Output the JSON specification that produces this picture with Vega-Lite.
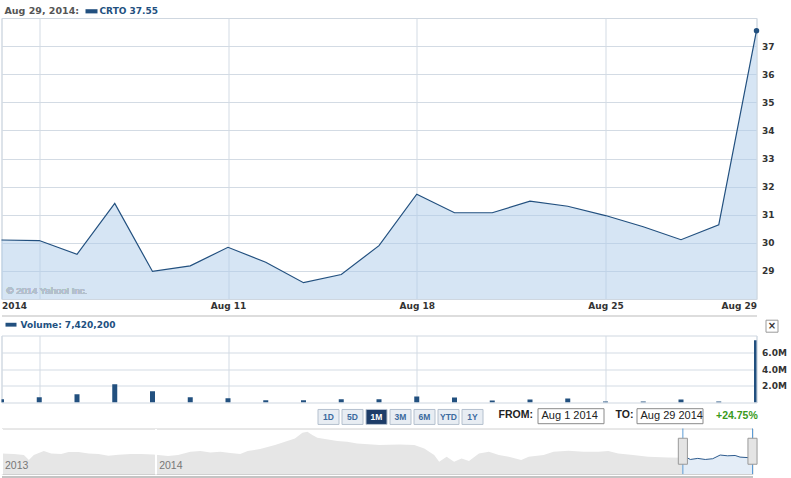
{
  "$schema": "https://vega.github.io/schema/vega-lite/v6.json",
  "background": "white",
  "padding": {"left": -1.5, "top": 4, "right": 0, "bottom": 0},
  "config": {
    "font": "DejaVu Sans",
    "view": {"stroke": "#cfd7e0"},
    "axis": {"gridColor": "#d3dbe4", "domain": false, "ticks": false, "labelFont": "DejaVu Sans", "labelFontSize": 9, "labelFontWeight": "bold", "labelColor": "#333333", "title": null},
    "legend": {"padding": 0}
  },
  "datasets": {
    "daily": [
      {"date": "2014-08-01", "close": 30.10, "volume": 400000},
      {"date": "2014-08-04", "close": 30.08, "volume": 630000},
      {"date": "2014-08-05", "close": 29.59, "volume": 990000},
      {"date": "2014-08-06", "close": 31.40, "volume": 2180000},
      {"date": "2014-08-07", "close": 28.98, "volume": 1350000},
      {"date": "2014-08-08", "close": 29.18, "volume": 630000},
      {"date": "2014-08-11", "close": 29.84, "volume": 510000},
      {"date": "2014-08-12", "close": 29.31, "volume": 270000},
      {"date": "2014-08-13", "close": 28.58, "volume": 270000},
      {"date": "2014-08-14", "close": 28.87, "volume": 390000},
      {"date": "2014-08-15", "close": 29.90, "volume": 390000},
      {"date": "2014-08-18", "close": 31.73, "volume": 710000},
      {"date": "2014-08-19", "close": 31.07, "volume": 600000},
      {"date": "2014-08-20", "close": 31.07, "volume": 240000},
      {"date": "2014-08-21", "close": 31.48, "volume": 360000},
      {"date": "2014-08-22", "close": 31.30, "volume": 480000},
      {"date": "2014-08-25", "close": 30.97, "volume": 120000},
      {"date": "2014-08-26", "close": 30.57, "volume": 120000},
      {"date": "2014-08-27", "close": 30.11, "volume": 360000},
      {"date": "2014-08-28", "close": 30.64, "volume": 120000},
      {"date": "2014-08-29", "close": 37.55, "volume": 7420200}
    ],
    "nav": [
      {"date": "2013-10-31", "v": 34.0}, {"date": "2013-11-05", "v": 33.4}, {"date": "2013-11-09", "v": 32.5},
      {"date": "2013-11-11", "v": 27.9}, {"date": "2013-11-13", "v": 32.5}, {"date": "2013-11-17", "v": 36.2},
      {"date": "2013-11-20", "v": 34.0}, {"date": "2013-11-24", "v": 33.4}, {"date": "2013-11-27", "v": 35.3},
      {"date": "2013-12-01", "v": 35.3}, {"date": "2013-12-05", "v": 34.0}, {"date": "2013-12-09", "v": 33.4},
      {"date": "2013-12-13", "v": 31.8}, {"date": "2013-12-17", "v": 32.8}, {"date": "2013-12-22", "v": 33.4},
      {"date": "2013-12-26", "v": 33.4}, {"date": "2013-12-31", "v": 33.0}, {"date": "2014-01-02", "v": 32.5},
      {"date": "2014-01-06", "v": 31.6}, {"date": "2014-01-10", "v": 32.5}, {"date": "2014-01-15", "v": 35.5},
      {"date": "2014-01-19", "v": 36.2}, {"date": "2014-01-23", "v": 34.9}, {"date": "2014-01-27", "v": 35.5},
      {"date": "2014-01-31", "v": 34.3}, {"date": "2014-02-04", "v": 33.4}, {"date": "2014-02-07", "v": 36.2},
      {"date": "2014-02-12", "v": 38.0}, {"date": "2014-02-18", "v": 41.7}, {"date": "2014-02-22", "v": 44.8},
      {"date": "2014-02-26", "v": 47.8}, {"date": "2014-03-01", "v": 53.1}, {"date": "2014-03-03", "v": 54.0},
      {"date": "2014-03-05", "v": 51.0}, {"date": "2014-03-07", "v": 48.5}, {"date": "2014-03-15", "v": 45.4},
      {"date": "2014-03-19", "v": 44.8}, {"date": "2014-03-23", "v": 43.2}, {"date": "2014-04-01", "v": 41.7},
      {"date": "2014-04-09", "v": 42.3}, {"date": "2014-04-15", "v": 41.7}, {"date": "2014-04-19", "v": 38.6},
      {"date": "2014-04-23", "v": 32.5}, {"date": "2014-04-25", "v": 26.3}, {"date": "2014-04-28", "v": 30.9},
      {"date": "2014-05-01", "v": 26.3}, {"date": "2014-05-04", "v": 29.4}, {"date": "2014-05-07", "v": 27.0},
      {"date": "2014-05-11", "v": 34.0}, {"date": "2014-05-15", "v": 35.5}, {"date": "2014-05-19", "v": 32.5},
      {"date": "2014-05-23", "v": 30.9}, {"date": "2014-05-28", "v": 27.9}, {"date": "2014-05-31", "v": 30.9},
      {"date": "2014-06-06", "v": 32.5}, {"date": "2014-06-10", "v": 35.5}, {"date": "2014-06-16", "v": 36.5},
      {"date": "2014-06-22", "v": 35.5}, {"date": "2014-06-28", "v": 35.5}, {"date": "2014-07-02", "v": 36.2},
      {"date": "2014-07-06", "v": 34.0}, {"date": "2014-07-12", "v": 32.5}, {"date": "2014-07-18", "v": 30.9},
      {"date": "2014-07-26", "v": 30.3}, {"date": "2014-08-01", "v": 30.0}
    ],
    "navAug": [
      {"date": "2014-08-01", "v": 30.0}, {"date": "2014-08-02", "v": 30.9}, {"date": "2014-08-04", "v": 28.4},
      {"date": "2014-08-07", "v": 29.4}, {"date": "2014-08-10", "v": 28.4}, {"date": "2014-08-13", "v": 29.1},
      {"date": "2014-08-16", "v": 32.5}, {"date": "2014-08-19", "v": 31.8}, {"date": "2014-08-22", "v": 32.1},
      {"date": "2014-08-24", "v": 30.6}, {"date": "2014-08-28", "v": 30.0}, {"date": "2014-08-29", "v": 30.0}
    ],
    "edges": [{"edge": "2014-08-01"}, {"edge": "2014-08-29"}]
  },
  "bounds": "flush",
  "spacing": 36.5,
  "resolve": {"scale": {"color": "independent", "fill": "independent", "stroke": "independent", "shape": "independent"}, "legend": {"color": "independent", "shape": "independent"}},
  "vconcat": [
    {
      "width": 755,
      "height": 281,
      "data": {"name": "daily"},
      "encoding": {
        "x": {"field": "date", "type": "ordinal", "scale": {"type": "point", "padding": 0},
          "axis": {"values": ["2014-08-01", "2014-08-04", "2014-08-11", "2014-08-18", "2014-08-25", "2014-08-29"],
            "labelExpr": "datum.value == '2014-08-01' ? '2014' : datum.value == '2014-08-04' ? '' : 'Aug ' + toNumber(substring(datum.value, 8, 10))",
            "labelFlush": true, "labelPadding": -14, "labelAngle": 0, "grid": true,
            "domain": true, "domainColor": "#dddddd", "domainWidth": 2, "offset": 16.5}},
        "y": {"field": "close", "type": "quantitative", "scale": {"domain": [28, 38], "zero": false, "nice": false},
          "axis": {"orient": "right", "values": [29, 30, 31, 32, 33, 34, 35, 36, 37], "labelPadding": 5, "grid": true}}
      },
      "layer": [
        {"mark": {"type": "area", "color": "#adcbe9", "opacity": 0.5}, "encoding": {"y2": {"datum": 28}}},
        {"mark": {"type": "line", "color": "#22507f", "strokeWidth": 1.2}},
        {"mark": {"type": "text", "text": "© 2014 Yahoo! Inc.", "align": "left", "baseline": "bottom", "dx": 5, "dy": -3, "font": "Liberation Sans", "fontSize": 9.5, "color": "#b2bfcd"},
          "encoding": {"x": {"datum": "2014-08-01"}, "y": {"datum": 28}}},
        {"transform": [{"filter": "datum.date == '2014-08-29'"}],
          "mark": {"type": "point", "filled": true, "size": 30, "opacity": 1},
          "encoding": {"color": {"datum": "CRTO 37.55", "scale": {"range": ["#22507f"]},
            "legend": {"orient": "none", "legendX": 3, "legendY": -12.7, "direction": "horizontal",
              "title": "Aug 29, 2014:", "titleOrient": "left", "titleAnchor": "middle", "titleBaseline": "middle",
              "titleFont": "DejaVu Sans", "titleFontSize": 9.5, "titleFontWeight": "bold", "titleColor": "#555555", "titlePadding": 6,
              "symbolType": "M-1,-0.35H1V0.35H-1Z", "symbolSize": 144, "symbolStrokeWidth": 0,
              "labelFont": "DejaVu Sans", "labelFontSize": 9, "labelFontWeight": "bold", "labelColor": "#22507f", "labelOffset": 2}}}},
        {"data": {"values": [{"change": "+24.75%"}]},
          "mark": {"type": "point", "opacity": 0},
          "encoding": {"x": null, "y": null, "shape": {"field": "change", "type": "nominal", "scale": {"range": ["circle"]},
            "legend": {"orient": "none", "legendX": 704, "legendY": 393.2, "title": null,
              "symbolSize": 100, "symbolStrokeWidth": 0, "symbolOpacity": 0,
              "labelOffset": 0, "labelAlign": "left", "labelFont": "Liberation Sans", "labelFontSize": 10.5, "labelFontWeight": "bold", "labelColor": "#3b9b1b",
              "encode": {"symbols": {"update": {"opacity": {"value": 0}}}}}}}}
      ]
    },
    {
      "bounds": "flush",
      "spacing": 26,
      "resolve": {"scale": {"color": "independent", "fill": "independent", "stroke": "independent", "shape": "independent"}, "legend": {"shape": "independent"}},
      "vconcat": [
        {
          "width": 755,
          "height": 67,
          "data": {"name": "daily"},
          "encoding": {
            "x": {"field": "date", "type": "ordinal", "scale": {"type": "point", "padding": 0},
              "axis": {"values": ["2014-08-01", "2014-08-04", "2014-08-11", "2014-08-18", "2014-08-25", "2014-08-29"], "labels": false, "grid": true}},
            "y": {"field": "volume", "type": "quantitative", "scale": {"domain": [0, 8000000], "nice": false},
              "axis": {"orient": "right", "values": [2000000, 4000000, 6000000], "format": ".2s", "labelPadding": 5, "grid": true}}
          },
          "layer": [
            {"mark": {"type": "bar", "size": 5, "clip": true},
              "encoding": {"color": {"datum": "Volume: 7,420,200", "scale": {"range": ["#22507f"]},
                "legend": {"orient": "none", "legendX": 4, "legendY": -16.3, "direction": "horizontal", "title": null,
                  "symbolType": "M-1,-0.35H1V0.35H-1Z", "symbolSize": 121, "symbolStrokeWidth": 0,
                  "labelFont": "DejaVu Sans", "labelFontSize": 9, "labelFontWeight": "bold", "labelColor": "#22507f", "labelOffset": 4}}}},
            {"data": {"values": [{"close": "×"}]},
              "mark": {"type": "point", "opacity": 0, "color": "#9a9a9a"},
              "encoding": {"x": null, "y": null, "shape": {"field": "close", "type": "nominal", "scale": {"range": ["square"]},
                "legend": {"orient": "none", "legendX": 764, "legendY": -15.8, "title": null,
                  "symbolSize": 144, "symbolStrokeWidth": 1, "symbolStrokeColor": "#9a9a9a", "symbolFillColor": "#eeeeee", "symbolOpacity": 1,
                  "labelOffset": -6.5, "labelAlign": "center", "labelFont": "DejaVu Sans", "labelFontSize": 10, "labelFontWeight": "bold", "labelColor": "#333333",
                  "encode": {"symbols": {"update": {"opacity": {"value": 1}, "fill": {"value": "#eeeeee"}, "stroke": {"value": "#9a9a9a"}}}}}}}}
          ]
        },
        {
          "width": 751,
          "height": 45.5,
          "view": {"stroke": "#d0d0d0", "fill": "white"},
          "layer": [
            {"data": {"name": "nav"},
              "mark": {"type": "area", "color": "#e6e6e6"},
              "encoding": {
                "x": {"field": "date", "type": "temporal",
                  "scale": {"domain": [{"year": 2013, "month": 10, "date": 31}, {"year": 2014, "month": 8, "date": 29}]},
                  "axis": {"values": [{"year": 2013, "month": 10, "date": 31}, {"year": 2014, "month": 1, "date": 1}], "format": "%Y",
                    "grid": true, "gridColor": "white", "gridWidth": 2, "zindex": 1, "labelAlign": "left", "labelBaseline": "bottom",
                    "labelPadding": -8, "labelOffset": 3, "labelFlush": false, "labelFontWeight": "normal", "labelColor": "#777777",
                    "labelFont": "Liberation Sans", "labelFontSize": 10.5, "domain": true, "domainColor": "#c4c4c4", "domainWidth": 5, "offset": 4}},
                "y": {"field": "v", "type": "quantitative", "scale": {"domain": [15, 57], "zero": false, "nice": false}, "axis": null},
                "y2": {"datum": 15}
              }},
            {"data": {"name": "navAug"},
              "mark": {"type": "area", "color": "#d8e6f4", "line": {"color": "#2d5b8e", "strokeWidth": 1}},
              "encoding": {
                "x": {"field": "date", "type": "temporal"},
                "y": {"field": "v", "type": "quantitative"},
                "y2": {"datum": 15}
              }},
            {"data": {"name": "edges"},
              "mark": {"type": "rule", "color": "#5b9bd5", "strokeWidth": 1},
              "encoding": {"x": {"field": "edge", "type": "temporal"}}},
            {"data": {"name": "edges"},
              "mark": {"type": "point", "shape": "M-0.35,-1H0.35V1H-0.35Z", "size": 676, "filled": true, "fill": "#e4e4e4", "stroke": "#9a9a9a", "strokeWidth": 1, "opacity": 1},
              "encoding": {"x": {"field": "edge", "type": "temporal"}}},
            {"data": {"values": [{"range": "1D"}, {"range": "5D"}, {"range": "1M"}, {"range": "3M"}, {"range": "6M"}, {"range": "YTD"}, {"range": "1Y"}]},
              "mark": {"type": "point", "filled": true, "opacity": 0},
              "encoding": {"fill": {"field": "range", "type": "nominal",
                "scale": {"domain": ["1D", "5D", "1M", "3M", "6M", "YTD", "1Y"], "range": ["#e8edf3", "#e8edf3", "#1d3c68", "#e8edf3", "#e8edf3", "#e8edf3", "#e8edf3"]},
                "legend": {"orient": "none", "legendX": 316, "legendY": -22.8, "direction": "horizontal", "title": null,
                  "symbolType": "M-1,-0.714H1V0.714H-1Z", "symbolSize": 441, "symbolStrokeColor": "#b4c0ce", "symbolStrokeWidth": 1, "symbolOpacity": 1,
                  "columnPadding": -10, "labelOffset": -11, "labelAlign": "center", "labelFont": "Liberation Sans", "labelFontSize": 8.5, "labelFontWeight": "bold", "labelColor": "#3b6a9e",
                  "encode": {"labels": {"update": {"fill": {"signal": "datum.label === '1M' ? '#ffffff' : '#3b6a9e'"}}},
                    "symbols": {"update": {"opacity": {"value": 1}, "stroke": {"value": "#b4c0ce"}, "strokeWidth": {"value": 1}}}}}}}},
            {"data": {"values": [{"from": "Aug 1 2014"}]},
              "mark": {"type": "point", "opacity": 0},
              "encoding": {"stroke": {"field": "from", "type": "nominal", "scale": {"range": ["#8a8a8a"]},
                "legend": {"orient": "none", "legendX": 497, "legendY": -24.8, "title": "FROM:", "titleOrient": "left", "titleAnchor": "middle", "titleBaseline": "middle",
                  "titleFont": "Liberation Sans", "titleFontSize": 10.5, "titleFontWeight": "bold", "titleColor": "#222222", "titlePadding": 4,
                  "symbolType": "M-1,-0.625H4.5V0.625H-1Z", "symbolSize": 576, "symbolStrokeWidth": 1, "symbolFillColor": "#ffffff", "symbolOpacity": 1,
                  "labelOffset": -21, "labelAlign": "left", "labelFont": "Liberation Sans", "labelFontSize": 11, "labelColor": "#222222",
                  "encode": {"symbols": {"update": {"opacity": {"value": 1}, "fill": {"value": "#ffffff"}}}}}}}},
            {"data": {"values": [{"to": "Aug 29 2014"}]},
              "mark": {"type": "point", "opacity": 0, "color": "#8a8a8a"},
              "encoding": {"shape": {"field": "to", "type": "nominal", "scale": {"range": ["M-1,-0.625H4.5V0.625H-1Z"]},
                "legend": {"orient": "none", "legendX": 614, "legendY": -24.8, "title": "TO:", "titleOrient": "left", "titleAnchor": "middle", "titleBaseline": "middle",
                  "titleFont": "Liberation Sans", "titleFontSize": 10.5, "titleFontWeight": "bold", "titleColor": "#222222", "titlePadding": 3,
                  "symbolSize": 576, "symbolStrokeWidth": 1, "symbolStrokeColor": "#8a8a8a", "symbolFillColor": "#ffffff", "symbolOpacity": 1,
                  "labelOffset": -21, "labelAlign": "left", "labelFont": "Liberation Sans", "labelFontSize": 11, "labelColor": "#222222",
                  "encode": {"symbols": {"update": {"opacity": {"value": 1}, "fill": {"value": "#ffffff"}, "stroke": {"value": "#8a8a8a"}}}}}}}}
          ]
        }
      ]
    }
  ]
}
